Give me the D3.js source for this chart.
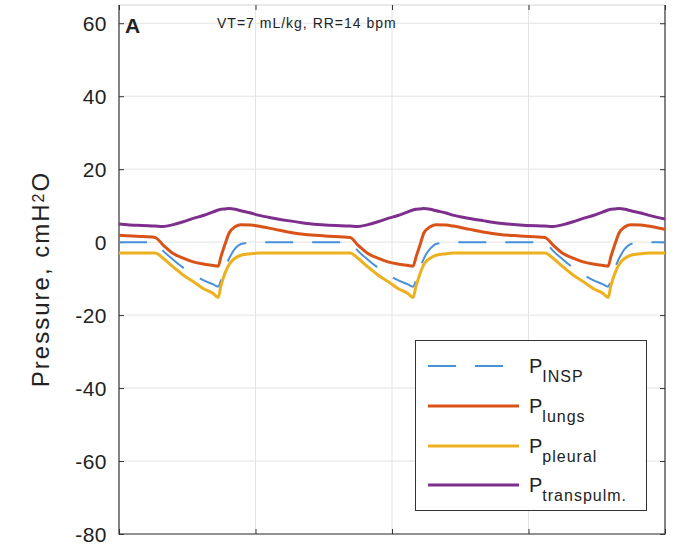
<!DOCTYPE html>
<html>
<head>
<meta charset="utf-8">
<script src="https://cdnjs.cloudflare.com/ajax/libs/d3/7.8.5/d3.min.js"></script>
<style>
body { margin: 0; background: #fff; }
text { font-family: "Liberation Sans", Arial, Helvetica, sans-serif; fill: #222; }
</style>
</head>
<body>
<svg id="chart" width="679" height="548"></svg>
<script>
// time in seconds (3 s per gridline)
var time = [0.00, 0.40,
    0.79, 0.97, 1.19, 1.41, 1.63, 1.85, 2.07, 2.18, 2.24, 2.33, 2.42, 2.55, 2.68, 2.90, 3.06, 3.43, 3.71, 4.09, 4.53,
    5.08, 5.25, 5.47, 5.69, 5.91, 6.13, 6.35, 6.46, 6.53, 6.62, 6.70, 6.84, 6.97, 7.19, 7.34, 7.71, 8.00, 8.37, 8.81,
    9.36, 9.54, 9.76, 9.98, 10.20, 10.42, 10.64, 10.75, 10.81, 10.90, 10.99, 11.12, 11.25, 11.47, 11.63, 12.00];

var pInsp = [0, 0,
    0, -2.4, -4.8, -7.0, -8.9, -10.4, -11.6, -12.2, -10.5, -7.1, -4.5, -1.8, -0.5, -0.1, 0, 0, 0, 0, 0,
    0, -2.4, -4.8, -7.0, -8.9, -10.4, -11.6, -12.2, -10.5, -7.1, -4.5, -1.8, -0.5, -0.1, 0, 0, 0, 0, 0,
    0, -2.4, -4.8, -7.0, -8.9, -10.4, -11.6, -12.2, -10.5, -7.1, -4.5, -1.8, -0.5, -0.1, 0, 0];

var pLungs = [1.9, 1.6,
    1.3, -0.8, -3.1, -4.4, -5.4, -6.0, -6.4, -6.6, -4.0, -0.6, 2.5, 4.2, 4.8, 4.7, 4.4, 3.5, 2.8, 2.1, 1.7,
    1.3, -0.8, -3.1, -4.4, -5.4, -6.0, -6.4, -6.6, -4.0, -0.6, 2.5, 4.2, 4.8, 4.7, 4.4, 3.5, 2.8, 2.1, 1.7,
    1.3, -0.8, -3.1, -4.4, -5.4, -6.0, -6.4, -6.6, -4.0, -0.6, 2.5, 4.2, 4.8, 4.7, 4.4, 3.5];

var pPleural = [-3.0, -3.0,
    -3.0, -4.4, -6.8, -9.0, -10.8, -12.7, -14.1, -15.2, -12.0, -8.5, -6.1, -4.4, -3.6, -3.2, -3.0, -3.0, -3.0, -3.0, -3.0,
    -3.0, -4.4, -6.8, -9.0, -10.8, -12.7, -14.1, -15.2, -12.0, -8.5, -6.1, -4.4, -3.6, -3.2, -3.0, -3.0, -3.0, -3.0, -3.0,
    -3.0, -4.4, -6.8, -9.0, -10.8, -12.7, -14.1, -15.2, -12.0, -8.5, -6.1, -4.4, -3.6, -3.2, -3.0, -3.0];

var pTranspulm = [5.0, 4.6,
    4.4, 4.3, 4.8, 5.6, 6.5, 7.3, 8.3, 8.8, 9.0, 9.1, 9.2, 9.0, 8.6, 8.0, 7.4, 6.5, 5.9, 5.2, 4.7,
    4.4, 4.3, 4.8, 5.6, 6.5, 7.3, 8.3, 8.8, 9.0, 9.1, 9.2, 9.0, 8.6, 8.0, 7.4, 6.5, 5.9, 5.2, 4.7,
    4.4, 4.3, 4.8, 5.6, 6.5, 7.3, 8.3, 8.8, 9.0, 9.1, 9.2, 9.0, 8.6, 8.0, 7.4, 6.3];

var yTicks = [-80, -60, -40, -20, 0, 20, 40, 60];
var xTicks = [0, 3, 6, 9, 12];
var legendNames = ["INSP", "lungs", "pleural", "transpulm."];

var svg = d3.select("#chart"),
    margin = {top: 5, right: 14, bottom: 14, left: 119},
    width = +svg.attr("width") - margin.left - margin.right,
    height = +svg.attr("height") - margin.top - margin.bottom;

var x = d3.scaleLinear().domain([0, 12]).range([margin.left, margin.left + width]);
var y = d3.scaleLinear().domain([-80, 65]).range([margin.top + height, margin.top]);

// grid
svg.append("g").selectAll("line.hgrid")
    .data(yTicks).enter().append("line")
    .attr("x1", x(0)).attr("x2", x(12))
    .attr("y1", function(d) { return y(d); })
    .attr("y2", function(d) { return y(d); })
    .attr("stroke", "#e3e3e3").attr("stroke-width", 1);

svg.append("g").selectAll("line.vgrid")
    .data(xTicks.slice(1, 4)).enter().append("line")
    .attr("y1", y(-80)).attr("y2", y(65))
    .attr("x1", function(d) { return x(d); })
    .attr("x2", function(d) { return x(d); })
    .attr("stroke", "#e3e3e3").attr("stroke-width", 1);

// top border is light in the picture
svg.append("line")
    .attr("x1", x(0)).attr("x2", x(12))
    .attr("y1", y(65)).attr("y2", y(65))
    .attr("stroke", "#d4d4d4");

// axes, ticks pointing inward like matlab
svg.append("g")
    .attr("transform", "translate(" + x(0) + ",0)")
    .call(d3.axisRight(y).tickValues(yTicks).tickSize(5).tickFormat(""))
    .call(function(g) { g.select(".domain").remove(); })
    .selectAll("line").attr("stroke", "#333");

svg.append("g")
    .attr("transform", "translate(" + x(12) + ",0)")
    .call(d3.axisLeft(y).tickValues(yTicks).tickSize(5).tickFormat(""))
    .call(function(g) { g.select(".domain").remove(); })
    .selectAll("line").attr("stroke", "#333");

svg.append("g")
    .attr("transform", "translate(0," + y(-80) + ")")
    .call(d3.axisTop(x).tickValues(xTicks).tickSize(5).tickFormat(""))
    .call(function(g) { g.select(".domain").remove(); })
    .selectAll("line").attr("stroke", "#333");

svg.append("g")
    .attr("transform", "translate(0," + y(65) + ")")
    .call(d3.axisBottom(x).tickValues(xTicks).tickSize(5).tickFormat(""))
    .call(function(g) { g.select(".domain").remove(); })
    .selectAll("line").attr("stroke", "#333");

svg.append("path")
    .attr("d", "M" + x(0) + "," + y(65) + "V" + y(-80) + "H" + x(12) + "V" + y(65))
    .attr("fill", "none").attr("stroke", "#333").attr("stroke-width", 1.2);

// y tick labels
svg.append("g").selectAll("text")
    .data(yTicks).enter().append("text")
    .attr("x", x(0) - 12)
    .attr("y", function(d) { return y(d); })
    .attr("dy", "0.36em")
    .attr("text-anchor", "end")
    .style("font-size", "21px")
    .style("letter-spacing", "0.5px")
    .text(function(d) { return d; });

// y label
var ylab = svg.append("text")
    .attr("transform", "translate(49,279) rotate(-90)")
    .attr("text-anchor", "middle")
    .style("font-size", "24px")
    .style("letter-spacing", "2px");
ylab.append("tspan").text("Pressure, cmH");
ylab.append("tspan").style("font-size", "16px").attr("dy", -5).text("2");
ylab.append("tspan").attr("dy", 5).text("O");

// panel letter and run parameters
svg.append("text").attr("x", 125).attr("y", 33)
    .style("font-size", "21px").style("font-weight", "bold").text("A");
svg.append("text").attr("x", 217).attr("y", 28)
    .style("font-size", "14px").style("letter-spacing", "1px")
    .text("VT=7 mL/kg, RR=14 bpm");

// curves
svg.append("defs").append("clipPath").attr("id", "clip")
    .append("rect")
    .attr("x", x(0)).attr("y", y(65))
    .attr("width", width).attr("height", height);

var series = [
    {vals: pInsp, color: "#4a90d9", w: 2, dash: "28,19"},
    {vals: pLungs, color: "#d95319", w: 3, dash: null},
    {vals: pPleural, color: "#edb120", w: 3, dash: null},
    {vals: pTranspulm, color: "#7e2f8e", w: 3, dash: null}
];

var line = d3.line()
    .x(function(d, i) { return x(time[i]); })
    .y(function(d) { return y(d); })
    .curve(d3.curveMonotoneX);

var plot = svg.append("g").attr("clip-path", "url(#clip)");
series.forEach(function(s) {
    plot.append("path")
        .datum(s.vals)
        .attr("d", line)
        .attr("fill", "none")
        .attr("stroke", s.color)
        .attr("stroke-width", s.w)
        .attr("stroke-dasharray", s.dash);
});

// legend
var lg = svg.append("g");
lg.append("rect")
    .attr("x", 415.5).attr("y", 340.5)
    .attr("width", 231).attr("height", 170)
    .attr("fill", "#fff").attr("stroke", "#333").attr("stroke-width", 1);

var rowY = [366, 406, 446, 485];
series.forEach(function(s, i) {
    lg.append("line")
        .attr("x1", 428).attr("x2", 519)
        .attr("y1", rowY[i]).attr("y2", rowY[i])
        .attr("stroke", s.color)
        .attr("stroke-width", s.w)
        .attr("stroke-dasharray", s.dash);
    var t = lg.append("text")
        .attr("x", 529).attr("y", rowY[i] + 7)
        .style("font-size", "20px");
    t.append("tspan").text("P");
    t.append("tspan")
        .attr("dy", 9)
        .style("font-size", "16px")
        .style("letter-spacing", "1px")
        .text(legendNames[i]);
});
</script>
</body>
</html>
